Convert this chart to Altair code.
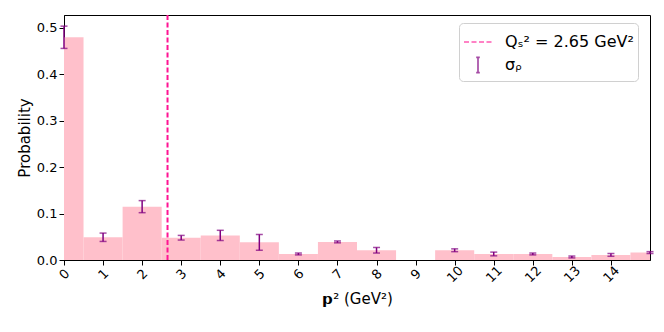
import altair as alt
import pandas as pd

centers = list(range(16))
probs = [0.480, 0.049, 0.115, 0.048, 0.053, 0.038, 0.013, 0.039, 0.021, 0.0,
         0.021, 0.013, 0.013, 0.0065, 0.011, 0.016]
errs = [0.024, 0.009, 0.013, 0.005, 0.011, 0.017, 0.002, 0.002, 0.006, None,
        0.003, 0.004, 0.002, 0.002, 0.003, 0.002]
qs2 = 2.65
x_ticks = list(range(15))
y_ticks = [0.0, 0.1, 0.2, 0.3, 0.4, 0.5]

LBL_Q = "Qₛ² = 2.65 GeV²"
LBL_S = "σᵨ"
series = [LBL_Q, LBL_S]

bars = pd.DataFrame({"c": centers, "p": probs})
eb = pd.DataFrame({"c": centers, "p": probs, "e": errs}).dropna()
eb["series"] = LBL_S
vline = pd.DataFrame({"q": [qs2], "series": [LBL_Q]})
legend_df = pd.DataFrame({"series": series})

xs = alt.Scale(domain=[0, 15], nice=False, zero=False)
ys = alt.Scale(domain=[0, 0.528], nice=False)
cs = alt.Scale(domain=series, range=["#FF1493", "#800080"])
ss = alt.Scale(domain=series,
               range=["stroke", "M0,-0.55L0,0.55M-0.13,-0.55L0.13,-0.55M-0.13,0.55L0.13,0.55"])
ds = alt.Scale(domain=series, range=[[5, 2.5], [1, 0]])

leg = alt.Legend(
    title=None, orient="none", legendX=395, legendY=8,
    labelFont="DejaVu Sans", labelFontSize=16, labelColor="black",
    symbolSize=784, symbolStrokeWidth=1.7, rowPadding=0,
    padding=4, strokeColor="#d0d0d0", fillColor="white", cornerRadius=4,
    labelOffset=12, symbolFillColor="transparent",
)

xaxis = alt.Axis(values=x_ticks, labelAngle=-45, labelAlign="center",
                 labelBaseline="middle", labelPadding=9, grid=False,
                 title="𝗽² (GeV²)", titlePadding=7)
yaxis = alt.Axis(values=y_ticks, format=".1f", grid=False, title="Probability")

bar_layer = alt.Chart(bars).transform_calculate(
    l="datum.c - 0.5", r="datum.c + 0.5"
).mark_rect(color="#FFC0CB", clip=True).encode(
    x=alt.X("l:Q", scale=xs, axis=xaxis),
    x2="r:Q",
    y=alt.Y("p:Q", scale=ys, axis=yaxis),
    y2=alt.datum(0),
)

err_rule = alt.Chart(eb).transform_calculate(
    lo="datum.p - datum.e", hi="datum.p + datum.e"
).mark_rule(strokeWidth=1.5).encode(
    x=alt.X("c:Q", scale=xs),
    y=alt.Y("lo:Q", scale=ys),
    y2="hi:Q",
    color=alt.Color("series:N", scale=cs, legend=leg),
    strokeDash=alt.StrokeDash("series:N", scale=ds, legend=leg),
)

err_caps = alt.Chart(eb).transform_calculate(
    lo="datum.p - datum.e", hi="datum.p + datum.e"
).transform_fold(["lo", "hi"], as_=["k", "v"]).mark_tick(
    color="#800080", thickness=1.5, size=7, orient="horizontal"
).encode(
    x=alt.X("c:Q", scale=xs),
    y=alt.Y("v:Q", scale=ys),
)

rule_layer = alt.Chart(vline).mark_rule(strokeWidth=2).encode(
    x=alt.X("q:Q", scale=xs),
    color=alt.Color("series:N", scale=cs, legend=leg),
    strokeDash=alt.StrokeDash("series:N", scale=ds, legend=leg),
)

legend_layer = alt.Chart(legend_df).mark_point(filled=False, clip=True, strokeWidth=1.7).encode(
    x=alt.value(-60), y=alt.value(-60),
    color=alt.Color("series:N", scale=cs, legend=leg),
    shape=alt.Shape("series:N", scale=ss, legend=leg),
    strokeDash=alt.StrokeDash("series:N", scale=ds, legend=leg),
)

chart = alt.layer(bar_layer, rule_layer, err_rule, err_caps, legend_layer).properties(
    width=586, height=245,
    background="white",
    autosize=alt.AutoSizeParams(type="none"),
    padding={"left": 56, "top": 7, "right": 6, "bottom": 64},
).configure_view(stroke="black", strokeWidth=1).configure_axis(
    domainColor="black", tickColor="black", labelColor="black", titleColor="black",
    labelFont="DejaVu Sans", titleFont="DejaVu Sans", labelFontSize=13,
    titleFontSize=15, titleFontWeight="normal", tickSize=5, domainWidth=1,
)

chart.save("out.html", embed_options={"renderer": "svg", "actions": False})
